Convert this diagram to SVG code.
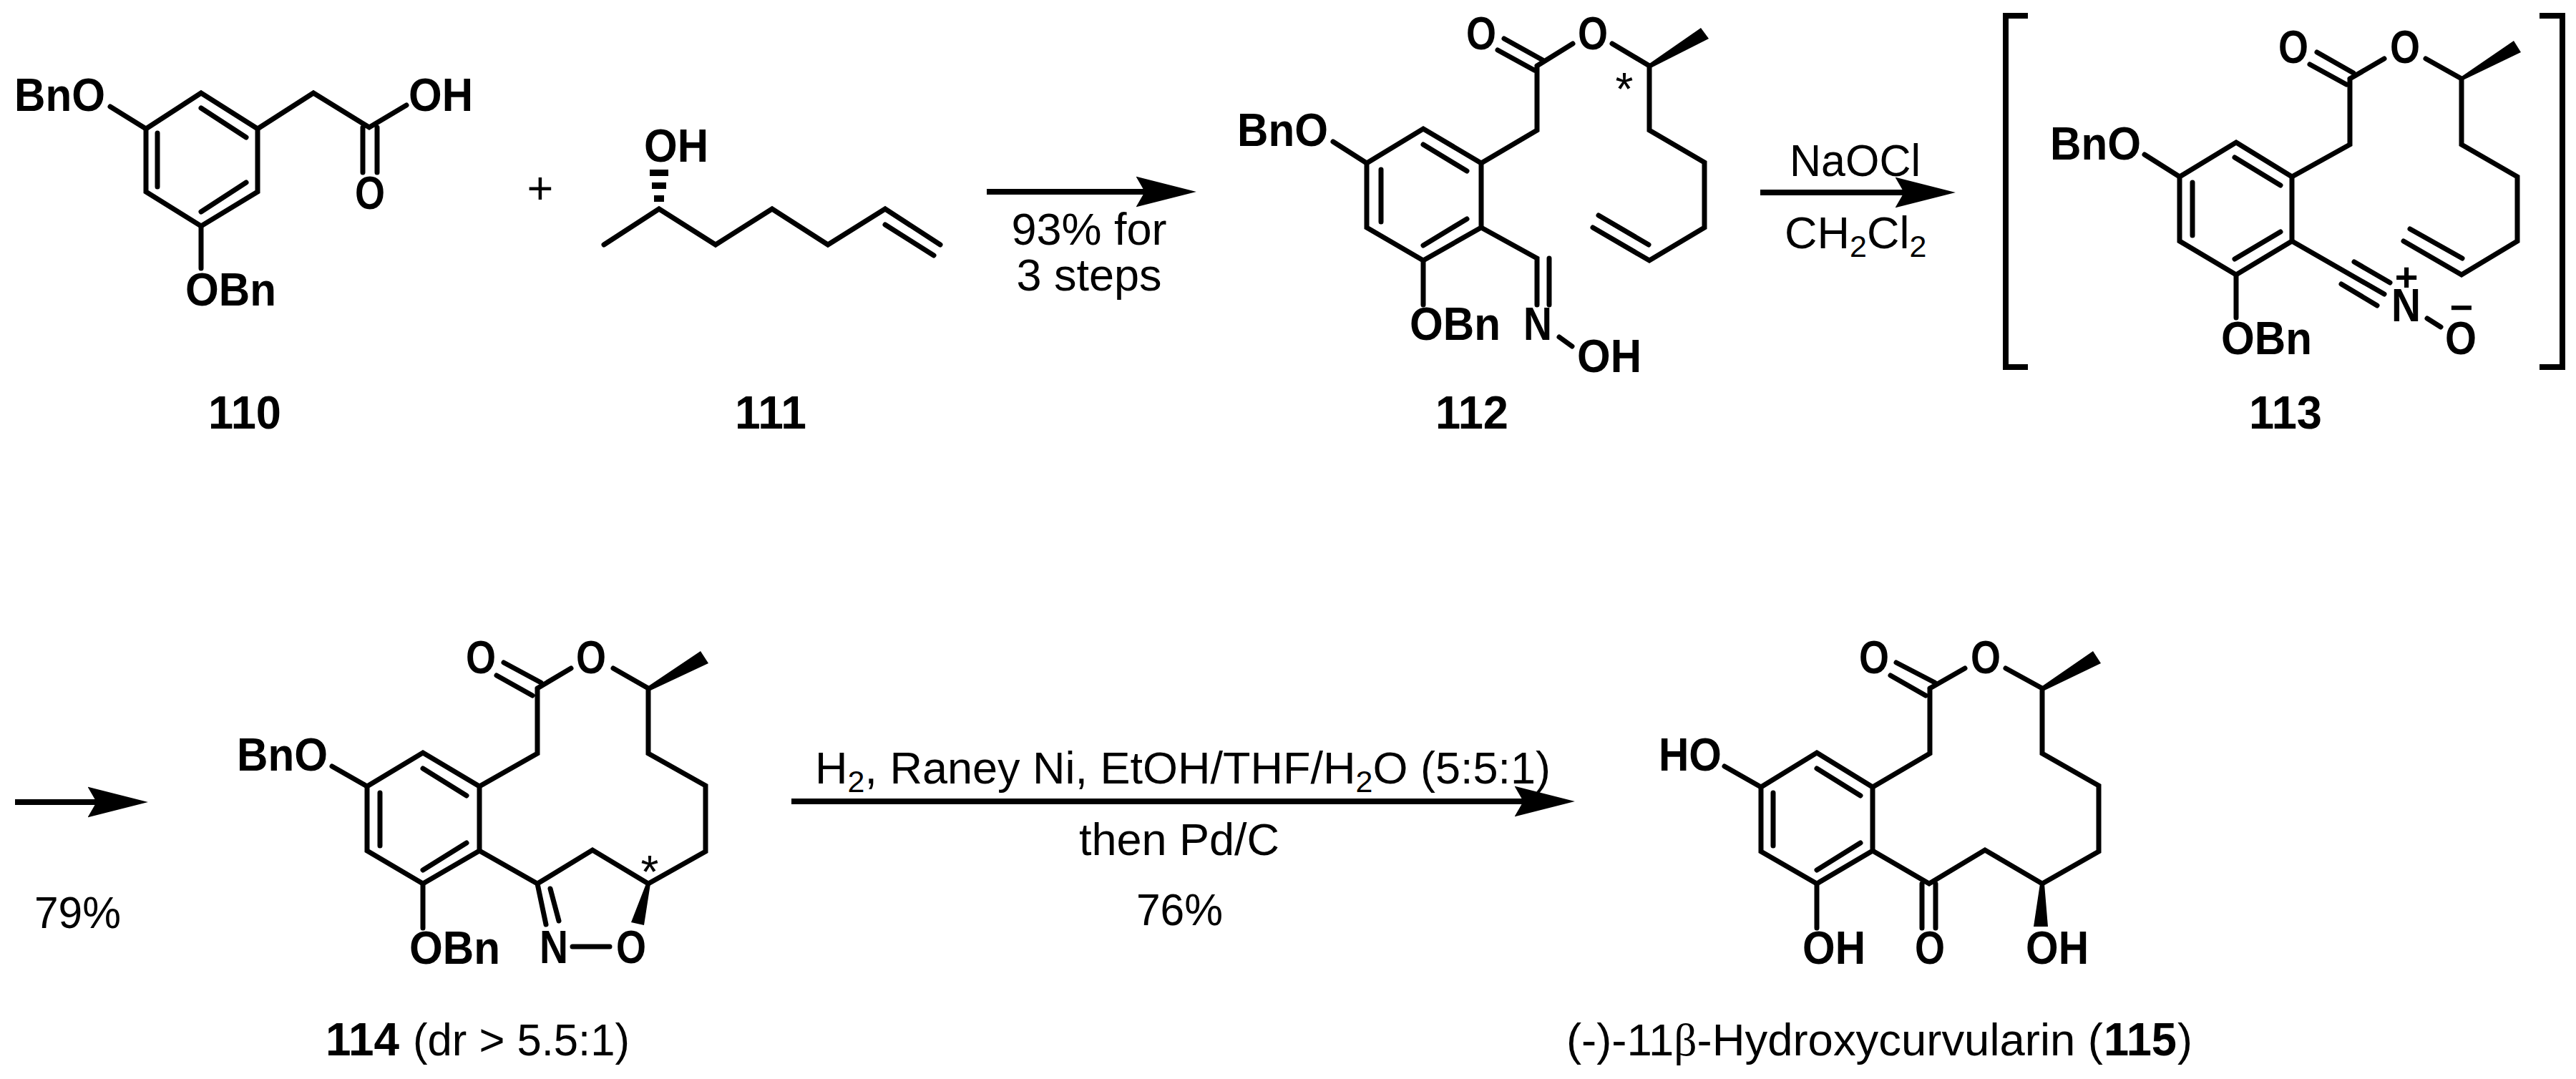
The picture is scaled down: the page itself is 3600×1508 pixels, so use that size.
<svg xmlns="http://www.w3.org/2000/svg" width="3600" height="1508" viewBox="0 0 3600 1508">
<style>
text{font-family:"Liberation Sans",Arial,sans-serif;fill:#000}
.b{font-size:65px;font-weight:700}
.r{font-size:63px}
.m{text-anchor:middle}
.s{font-size:43px}
.a{font-size:64px}
.bond{fill:none;stroke:#000;stroke-width:7;stroke-linecap:round;stroke-linejoin:miter}
.w{fill:#000;stroke:none}
.arrow{stroke:#000;stroke-width:8;fill:none}
</style>
<defs>
<marker id="head" markerUnits="userSpaceOnUse" markerWidth="90" markerHeight="50" viewBox="0 0 80 40" refX="12" refY="20" orient="auto"><path d="M0,1 L75,20 L0,39 L11,20Z" fill="#000"/></marker>
</defs>
<rect width="3600" height="1508" fill="#fff"/>

<g id="connectors">
<path class="arrow" marker-end="url(#head)" d="M1379,268H1601"/>
<path class="arrow" marker-end="url(#head)" d="M2460,269H2662"/>
<path class="arrow" marker-end="url(#head)" d="M21,1121H136"/>
<path class="arrow" marker-end="url(#head)" d="M1106,1120H2130"/>
</g>

<g id="node-110">
<path class="bond" d="M281,130L360,180V268L281,316L204,268V180Z"/>
<path class="bond" d="M281,151L344,192M220,186V261M344,255L281,296M154,149L204,180M281,316V375M360,180L438,130L516,178L568,147M507,178V241M527,178V241"/>
<text class="b" x="20" y="155" textLength="127" lengthAdjust="spacingAndGlyphs">BnO</text>
<text class="b" x="571" y="155" textLength="90" lengthAdjust="spacingAndGlyphs">OH</text>
<text class="b" x="496" y="292" textLength="42" lengthAdjust="spacingAndGlyphs">O</text>
<text class="b" x="259" y="427" textLength="127" lengthAdjust="spacingAndGlyphs">OBn</text>
<text class="b" x="291" y="599" textLength="102" lengthAdjust="spacingAndGlyphs">110</text>
</g>

<text id="plus" class="r m" x="755" y="285">+</text>

<g id="node-111">
<path class="bond" d="M844,342L921,292L1000,342L1079,292L1157,342L1237,292L1314,342M1237,314L1305,357"/>
<path class="w" d="M908,237H934V246H908ZM911,255H931V264H911ZM914,273H928V282H914Z"/>
<text class="b" x="900" y="226" textLength="90" lengthAdjust="spacingAndGlyphs">OH</text>
<text class="b" x="1027" y="599" textLength="100" lengthAdjust="spacingAndGlyphs">111</text>
</g>

<g id="label-step1">
<text class="r m" x="1522" y="342">93% for</text>
<text class="r m" x="1522" y="406">3 steps</text>
</g>

<g id="node-112">
<path class="bond" d="M1989,180L2070,228V318L1989,364L1910,318V228Z"/>
<path class="bond" d="M1989,202L2050,239M1930,237V310M2050,306L1989,343M1863,198L1910,228M1989,364V426M2070,228L2148,182V92M2156,84L2102,54M2144,98L2093,70M2148,92L2198,61M2253,61L2305,92V182L2382,227V318L2305,364L2226,318M2234,301L2304,342M2070,318L2148,361V426M2165,361V426M2179,471L2197,484"/>
<path class="w" d="M2302,91L2377,39L2388,54L2307,95Z"/>
<text class="b" x="1729" y="204" textLength="127" lengthAdjust="spacingAndGlyphs">BnO</text>
<text class="b" x="1970" y="475" textLength="127" lengthAdjust="spacingAndGlyphs">OBn</text>
<text class="b" x="2049" y="69" textLength="42" lengthAdjust="spacingAndGlyphs">O</text>
<text class="b" x="2205" y="69" textLength="42" lengthAdjust="spacingAndGlyphs">O</text>
<text class="b" x="2129" y="475" textLength="40" lengthAdjust="spacingAndGlyphs">N</text>
<text class="b" x="2204" y="520" textLength="90" lengthAdjust="spacingAndGlyphs">OH</text>
<text class="a m" x="2270" y="147">*</text>
<text class="b" x="2006" y="599" textLength="102" lengthAdjust="spacingAndGlyphs">112</text>
</g>

<g id="label-step2">
<text class="r" x="2501" y="246" textLength="183" lengthAdjust="spacingAndGlyphs">NaOCl</text>
<text class="r" x="2494" y="347">CH<tspan class="s" dy="12">2</tspan><tspan dy="-12">Cl</tspan><tspan class="s" dy="12">2</tspan></text>
</g>

<g id="node-113">
<path d="M2834,22H2803V513H2834M3549,22H3581V513H3549" fill="none" stroke="#000" stroke-width="8"/>
<path class="bond" d="M3125,199L3203,247V337L3125,384L3046,337V247Z"/>
<path class="bond" d="M3123,220L3187,259M3064,255V329M3187,324L3123,362M2997,216L3046,247M3125,384V444M3203,247L3284,202V110M3238,73L3289,102M3228,90L3279,118M3284,110L3332,82M3390,82L3440,110V202L3518,247V337L3440,384L3359,337M3368,320L3441,361M3203,337L3332,411M3290,366L3340,395M3272,397L3322,427M3392,445L3411,457"/>
<path class="w" d="M3437,109L3513,57L3523,73L3442,112Z"/>
<text class="b" x="2865" y="223" textLength="127" lengthAdjust="spacingAndGlyphs">BnO</text>
<text class="b" x="3104" y="495" textLength="127" lengthAdjust="spacingAndGlyphs">OBn</text>
<text class="b" x="3184" y="88" textLength="42" lengthAdjust="spacingAndGlyphs">O</text>
<text class="b" x="3340" y="88" textLength="42" lengthAdjust="spacingAndGlyphs">O</text>
<text class="b" x="3342" y="449" textLength="41" lengthAdjust="spacingAndGlyphs">N</text>
<text class="b" x="3417" y="495" textLength="44" lengthAdjust="spacingAndGlyphs">O</text>
<text class="b m" x="3363" y="406" style="font-size:56px">+</text>
<text class="b m" x="3440" y="449" style="font-size:56px">−</text>
<text class="b" x="3143" y="599" textLength="102" lengthAdjust="spacingAndGlyphs">113</text>
</g>

<text id="label-step3" class="r" x="48" y="1297" textLength="121" lengthAdjust="spacingAndGlyphs">79%</text>

<g id="node-114">
<path class="bond" d="M591,1052L670,1099V1189L591,1235L513,1189V1099Z"/>
<path class="bond" d="M591,1074L652,1112M531,1108V1182M652,1178L591,1216M464,1071L513,1099M591,1235V1297M670,1099L751,1053V962M704,926L756,954M694,944L744,972M751,962L798,934M857,934L906,962V1053L986,1098V1190L906,1235L828,1188L751,1235L670,1189M751,1235L763,1292M769,1242L781,1287M800,1323H852"/>
<path class="w" d="M903,961L979,910L990,927L909,965ZM903,1235H909L900,1293L882,1289Z"/>
<text class="b" x="331" y="1077" textLength="127" lengthAdjust="spacingAndGlyphs">BnO</text>
<text class="b" x="572" y="1347" textLength="127" lengthAdjust="spacingAndGlyphs">OBn</text>
<text class="b" x="651" y="941" textLength="42" lengthAdjust="spacingAndGlyphs">O</text>
<text class="b" x="805" y="941" textLength="42" lengthAdjust="spacingAndGlyphs">O</text>
<text class="b" x="754" y="1346" textLength="40" lengthAdjust="spacingAndGlyphs">N</text>
<text class="b" x="861" y="1346" textLength="42" lengthAdjust="spacingAndGlyphs">O</text>
<text class="a m" x="908" y="1241">*</text>
<text class="b" x="455" y="1475" textLength="103" lengthAdjust="spacingAndGlyphs">114</text>
<text class="r" x="577" y="1475" textLength="303" lengthAdjust="spacingAndGlyphs">(dr &gt; 5.5:1)</text>
</g>

<g id="label-step4">
<text class="r" x="1139" y="1095">H<tspan class="s" dy="12">2</tspan><tspan dy="-12">, Raney Ni, EtOH/THF/H</tspan><tspan class="s" dy="12">2</tspan><tspan dy="-12">O (5:5:1)</tspan></text>
<text class="r m" x="1648" y="1195">then Pd/C</text>
<text class="r" x="1588" y="1293" textLength="121" lengthAdjust="spacingAndGlyphs">76%</text>
</g>

<g id="node-115">
<path class="bond" d="M2539,1052L2617,1100V1189L2539,1235L2461,1190V1100Z"/>
<path class="bond" d="M2539,1074L2600,1112M2478,1108V1182M2600,1178L2539,1216M2410,1071L2461,1100M2539,1235V1297M2617,1100L2697,1053V962M2650,926L2704,954M2642,944L2691,972M2697,962L2746,934M2803,934L2854,962V1053L2933,1098V1190L2854,1235L2774,1188L2696,1235L2617,1189M2686,1235V1297M2705,1235V1297"/>
<path class="w" d="M2851,961L2925,910L2936,927L2857,965ZM2851,1235H2857L2862,1295H2842Z"/>
<text class="b" x="2318" y="1077" textLength="88" lengthAdjust="spacingAndGlyphs">HO</text>
<text class="b" x="2519" y="1347" textLength="88" lengthAdjust="spacingAndGlyphs">OH</text>
<text class="b" x="2598" y="941" textLength="42" lengthAdjust="spacingAndGlyphs">O</text>
<text class="b" x="2754" y="941" textLength="42" lengthAdjust="spacingAndGlyphs">O</text>
<text class="b" x="2676" y="1347" textLength="42" lengthAdjust="spacingAndGlyphs">O</text>
<text class="b" x="2831" y="1347" textLength="88" lengthAdjust="spacingAndGlyphs">OH</text>
<text class="r" x="2189" y="1475" textLength="750" lengthAdjust="spacingAndGlyphs">(-)-11<tspan style="font-family:'Liberation Serif',serif">β</tspan>-Hydroxycurvularin (</text>
<text class="b" x="2940" y="1475" textLength="102" lengthAdjust="spacingAndGlyphs">115</text>
<text class="r" x="3043" y="1475">)</text>
</g>
</svg>
